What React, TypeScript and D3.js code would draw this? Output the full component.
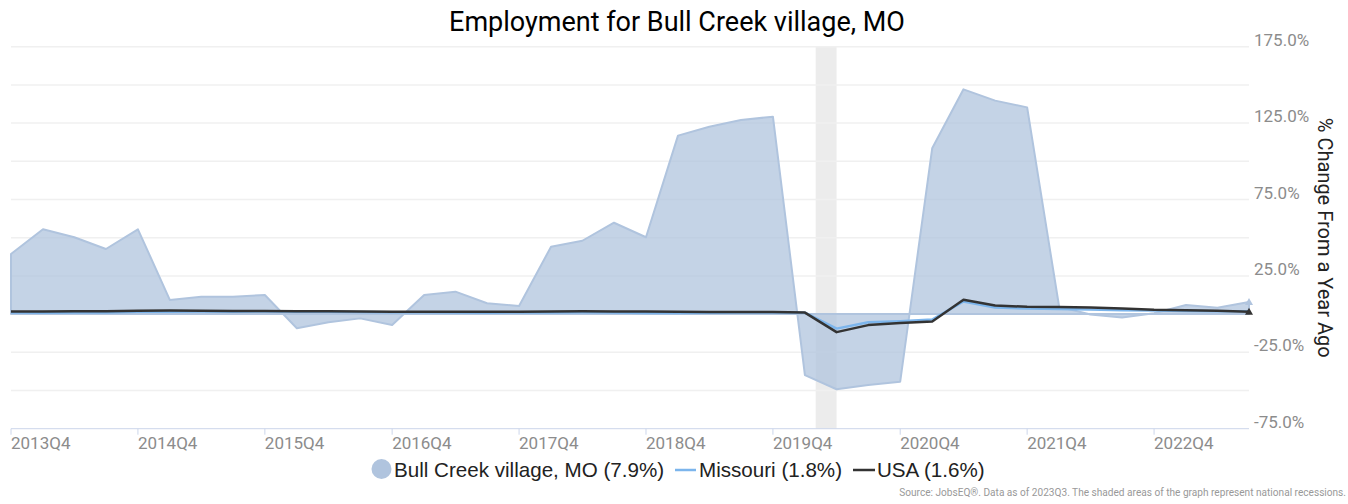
import React from 'react';
import * as d3 from 'd3';

const quarters = [
  '2013Q4',
  '2014Q1', '2014Q2', '2014Q3', '2014Q4',
  '2015Q1', '2015Q2', '2015Q3', '2015Q4',
  '2016Q1', '2016Q2', '2016Q3', '2016Q4',
  '2017Q1', '2017Q2', '2017Q3', '2017Q4',
  '2018Q1', '2018Q2', '2018Q3', '2018Q4',
  '2019Q1', '2019Q2', '2019Q3', '2019Q4',
  '2020Q1', '2020Q2', '2020Q3', '2020Q4',
  '2021Q1', '2021Q2', '2021Q3', '2021Q4',
  '2022Q1', '2022Q2', '2022Q3', '2022Q4',
  '2023Q1', '2023Q2', '2023Q3'
];

const bullCreek = [
  39.3,
  55.5, 50.3, 42.6, 55.5,
  9.2, 11.4, 11.4, 12.5,
  -9.3, -5.4, -2.8, -7.1,
  12.5, 14.7, 7.1, 5.3,
  44.1, 48.0, 59.8, 50.3,
  116.8, 122.6, 127.0, 129.2,
  -39.9, -49.2, -46.4, -44.2,
  108.5, 147.1, 139.7, 135.3,
  4.8, -0.3, -2.3, 0.5,
  6.0, 4.2, 7.9
];

const missouri = [
  1.0,
  0.9, 1.1, 1.0, 1.5,
  1.6, 1.7, 1.6, 1.7,
  1.6, 1.5, 1.4, 1.2,
  1.2, 1.0, 0.9, 1.0,
  1.1, 1.2, 1.0, 0.8,
  0.8, 0.9, 1.0, 1.1,
  0.9, -9.5, -5.4, -4.6,
  -3.6, 8.3, 4.3, 3.6,
  3.4, 3.0, 2.6, 2.3,
  2.1, 1.9, 1.8
];

const usa = [
  1.7,
  1.7, 1.8, 1.9, 2.2,
  2.3, 2.2, 2.1, 2.0,
  1.9, 1.8, 1.7, 1.6,
  1.6, 1.6, 1.5, 1.6,
  1.7, 1.8, 1.7, 1.7,
  1.5, 1.4, 1.3, 1.3,
  1.0, -11.8, -7.2, -5.9,
  -4.9, 9.4, 5.6, 4.8,
  4.6, 4.3, 3.7, 2.8,
  2.6, 2.2, 1.6
];

const yLabels = [175, 125, 75, 25, -25, -75];
const gridLines = [175, 150, 125, 100, 75, 50, 25, 0, -25, -50];
const xLabels = ['2013Q4', '2014Q4', '2015Q4', '2016Q4', '2017Q4', '2018Q4', '2019Q4', '2020Q4', '2021Q4', '2022Q4'];
const recessions = [['2020-02-01', '2020-04-01']];

const legendNames = ['Bull Creek village, MO (7.9%)', 'Missouri (1.8%)', 'USA (1.6%)'];
const colors = ['#b0c4de', '#7cb5ec', '#333333'];

const qDate = (q: string) => new Date(+q.slice(0, 4), (+q.slice(5) - 1) * 3, 1);

export default function App() {
  const width = 1348, height = 504;
  const margin = { top: 46.7, right: 99, bottom: 75.3, left: 11 };

  const x = d3.scaleTime()
    .domain([qDate(quarters[0]), qDate(quarters[quarters.length - 1])])
    .range([margin.left, width - margin.right]);

  const y = d3.scaleLinear()
    .domain([-75, 175])
    .range([height - margin.bottom, margin.top]);

  const pts = (vals: number[]) => vals.map((v, i) => ({ d: qDate(quarters[i]), v }));

  const area = d3.area<{ d: Date; v: number }>()
    .x(p => x(p.d))
    .y0(y(0))
    .y1(p => y(p.v));

  const line = d3.line<{ d: Date; v: number }>()
    .x(p => x(p.d))
    .y(p => y(p.v));

  const font = 'Roboto, sans-serif';
  const last = quarters.length - 1;
  const tri = (cx: number, cy: number) => `M${cx},${cy - 4}L${cx + 4},${cy + 3}L${cx - 4},${cy + 3}Z`;

  return (
    <svg width={width} height={height} style={{ position: 'absolute', left: 0, top: 0 }}>
      <rect width={width} height={height} fill="#fff" />
      <text x={677} y={31} textAnchor="middle" fontFamily={font} fontSize={27} fill="#000">
        Employment for Bull Creek village, MO
      </text>

      {recessions.map(([a, b], i) => (
        <rect key={i} x={x(new Date(a))} width={x(new Date(b)) - x(new Date(a))}
          y={margin.top} height={y(-75) - margin.top} fill="#ececec" />
      ))}

      {gridLines.map(g => (
        <line key={g} x1={margin.left} x2={width - margin.right} y1={y(g)} y2={y(g)}
          stroke="#f0f0f0" strokeWidth={1.5} />
      ))}

      <path d={area(pts(bullCreek)) || ''} fill={colors[0]} fillOpacity={0.75}
        stroke={colors[0]} strokeWidth={2} strokeLinejoin="round" />
      <path d={line(pts(missouri)) || ''} fill="none" stroke={colors[1]} strokeWidth={2.5} strokeLinejoin="round" />
      <path d={line(pts(usa)) || ''} fill="none" stroke={colors[2]} strokeWidth={2.5} strokeLinejoin="round" />
      <path d={tri(x(qDate(quarters[last])), y(bullCreek[last]))} fill={colors[0]} />
      <path d={tri(x(qDate(quarters[last])), y(usa[last]))} fill={colors[2]} />

      <line x1={margin.left} x2={width - margin.right} y1={y(-75)} y2={y(-75)} stroke="#ccd6eb" strokeWidth={1} />
      {xLabels.map(q => (
        <g key={q} transform={`translate(${x(qDate(q))},${y(-75)})`}>
          <line y1={0} y2={6} stroke="#ccd6eb" />
          <text x={0} y={20} fontFamily={font} fontSize={17} fill="#8c8c8c">{q}</text>
        </g>
      ))}

      {yLabels.map(v => (
        <text key={v} x={1254} y={y(v) - 1} fontFamily={font} fontSize={17} fill="#8c8c8c">
          {v.toFixed(1)}%
        </text>
      ))}

      <text transform={`translate(1318,${(margin.top + y(-75)) / 2}) rotate(90)`} textAnchor="middle"
        fontFamily={font} fontSize={20} fill="#222">
        % Change From a Year Ago
      </text>

      <g fontFamily="'Liberation Sans', Arial, sans-serif" fontSize={20.6} fill="#222">
        <circle cx={381.5} cy={469} r={10} fill={colors[0]} />
        <text x={394} y={476.5}>{legendNames[0]}</text>
        <line x1={675} x2={696} y1={470} y2={470} stroke={colors[1]} strokeWidth={2.5} />
        <text x={699} y={476.5}>{legendNames[1]}</text>
        <line x1={853} x2={875} y1={470} y2={470} stroke={colors[2]} strokeWidth={2.5} />
        <text x={877} y={476.5}>{legendNames[2]}</text>
      </g>

      <text x={1346} y={496} textAnchor="end" fontFamily={font} fontSize={10.1} fill="#999">
        Source: JobsEQ®. Data as of 2023Q3. The shaded areas of the graph represent national recessions.
      </text>
    </svg>
  );
}
